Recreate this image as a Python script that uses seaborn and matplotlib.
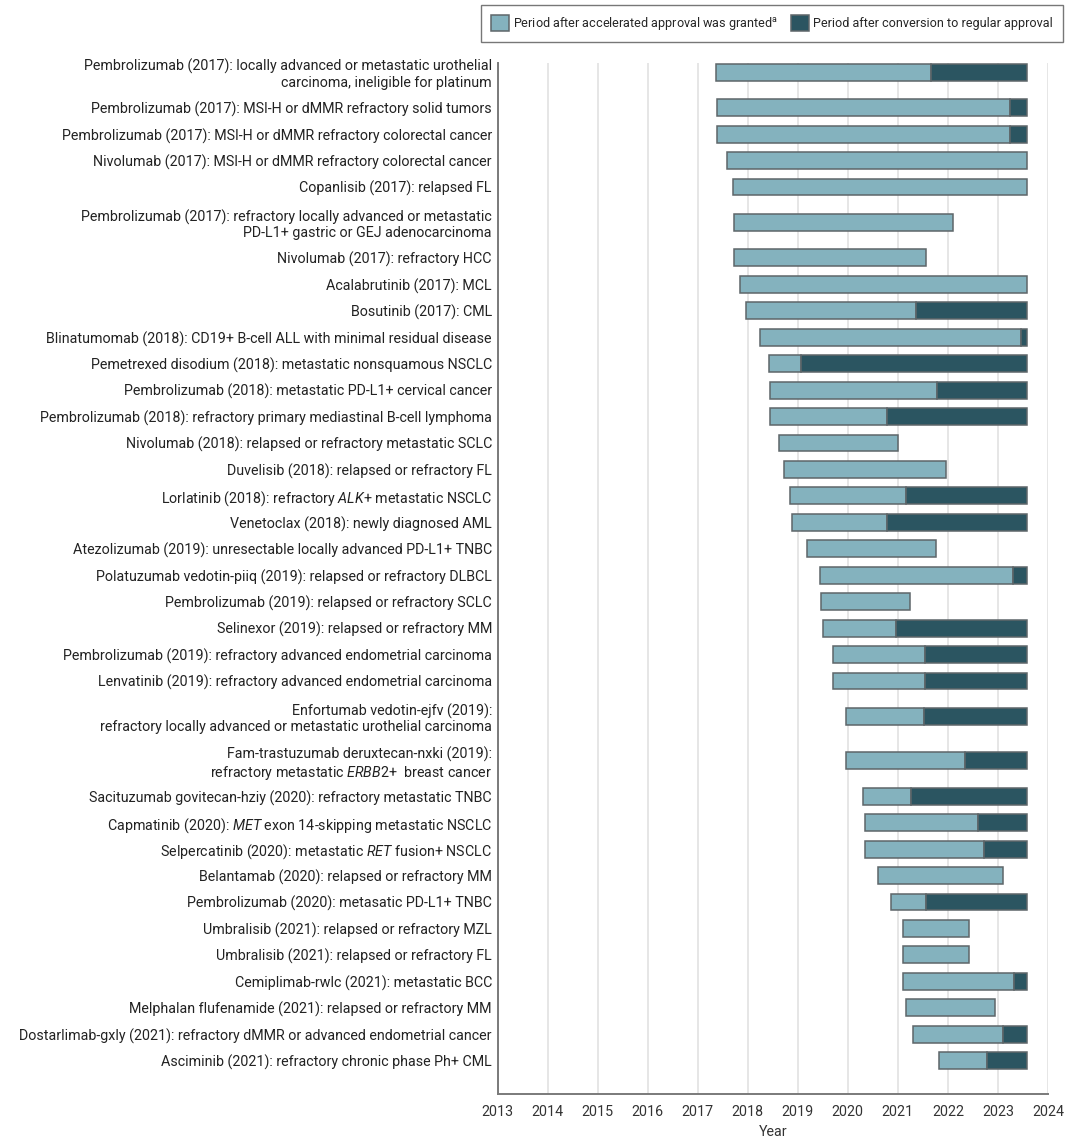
import numpy as np
import matplotlib
matplotlib.use("Agg")
import matplotlib.pyplot as plt
import matplotlib.font_manager as fm
from matplotlib.patches import Patch
import seaborn as sns

labels = [
    "Pembrolizumab (2017): locally advanced or metastatic urothelial\ncarcinoma, ineligible for platinum",
    "Pembrolizumab (2017): MSI-H or dMMR refractory solid tumors",
    "Pembrolizumab (2017): MSI-H or dMMR refractory colorectal cancer",
    "Nivolumab (2017): MSI-H or dMMR refractory colorectal cancer",
    "Copanlisib (2017): relapsed FL",
    "Pembrolizumab (2017): refractory locally advanced or metastatic\nPD-L1+ gastric or GEJ adenocarcinoma",
    "Nivolumab (2017): refractory HCC",
    "Acalabrutinib (2017): MCL",
    "Bosutinib (2017): CML",
    "Blinatumomab (2018): CD19+ B-cell ALL with minimal residual disease",
    "Pemetrexed disodium (2018): metastatic nonsquamous NSCLC",
    "Pembrolizumab (2018): metastatic PD-L1+ cervical cancer",
    "Pembrolizumab (2018): refractory primary mediastinal B-cell lymphoma",
    "Nivolumab (2018): relapsed or refractory metastatic SCLC",
    "Duvelisib (2018): relapsed or refractory FL",
    "Lorlatinib (2018): refractory $\\mathit{ALK}$+ metastatic NSCLC",
    "Venetoclax (2018): newly diagnosed AML",
    "Atezolizumab (2019): unresectable locally advanced PD-L1+ TNBC",
    "Polatuzumab vedotin-piiq (2019): relapsed or refractory DLBCL",
    "Pembrolizumab (2019): relapsed or refractory SCLC",
    "Selinexor (2019): relapsed or refractory MM",
    "Pembrolizumab (2019): refractory advanced endometrial carcinoma",
    "Lenvatinib (2019): refractory advanced endometrial carcinoma",
    "Enfortumab vedotin-ejfv (2019):\nrefractory locally advanced or metastatic urothelial carcinoma",
    "Fam-trastuzumab deruxtecan-nxki (2019):\nrefractory metastatic $\\mathit{ERBB2}$+  breast cancer",
    "Sacituzumab govitecan-hziy (2020): refractory metastatic TNBC",
    "Capmatinib (2020): $\\mathit{MET}$ exon 14-skipping metastatic NSCLC",
    "Selpercatinib (2020): metastatic $\\mathit{RET}$ fusion+ NSCLC",
    "Belantamab (2020): relapsed or refractory MM",
    "Pembrolizumab (2020): metasatic PD-L1+ TNBC",
    "Umbralisib (2021): relapsed or refractory MZL",
    "Umbralisib (2021): relapsed or refractory FL",
    "Cemiplimab-rwlc (2021): metastatic BCC",
    "Melphalan flufenamide (2021): relapsed or refractory MM",
    "Dostarlimab-gxly (2021): refractory dMMR or advanced endometrial cancer",
    "Asciminib (2021): refractory chronic phase Ph+ CML",
]

accel_start = [2017.37, 2017.39, 2017.39, 2017.58, 2017.70, 2017.72, 2017.72, 2017.84, 2017.97,
               2018.24, 2018.42, 2018.44, 2018.44, 2018.62, 2018.73, 2018.84, 2018.89, 2019.18,
               2019.44, 2019.46, 2019.50, 2019.71, 2019.71, 2019.96, 2019.96, 2020.30, 2020.35,
               2020.35, 2020.60, 2020.87, 2021.10, 2021.10, 2021.11, 2021.16, 2021.31, 2021.83]
nan = float("nan")
conversion = [2021.66, 2023.24, 2023.24, nan, nan, nan, nan, nan, 2021.37,
              2023.46, 2019.07, 2021.78, 2020.79, nan, nan, 2021.17, 2020.79, nan,
              2023.30, nan, 2020.96, 2021.55, 2021.55, 2021.52, 2022.34, 2021.26, 2022.60,
              2022.72, nan, 2021.57, nan, nan, 2023.32, nan, 2023.11, 2022.78]
period_end = [2023.59, 2023.59, 2023.59, 2023.59, 2023.59, 2022.10, 2021.56, 2023.59, 2023.59,
              2023.59, 2023.59, 2023.59, 2023.59, 2021.00, 2021.96, 2023.59, 2023.59, 2021.77,
              2023.59, 2021.25, 2023.59, 2023.59, 2023.59, 2023.59, 2023.59, 2023.59, 2023.59,
              2023.59, 2023.10, 2023.59, 2022.42, 2022.42, 2023.59, 2022.94, 2023.59, 2023.59]
year_ticks = list(range(2013, 2025))
legend_labels = ["Period after accelerated approval was granted$^{\\mathrm{a}}$",
                 "Period after conversion to regular approval"]

LIGHT = "#84b2be"
DARK = "#2b5561"
EDGE = "#5e6669"

sns.set_theme(style="white")
names = {f.name for f in fm.fontManager.ttflist}
font = "DejaVu Sans"
for cand in ["Roboto", "Liberation Sans", "Open Sans"]:
    if cand in names:
        font = cand
        break
plt.rcParams["font.family"] = [font, "DejaVu Sans"]
plt.rcParams["mathtext.fontset"] = "custom"
plt.rcParams["mathtext.rm"] = font
plt.rcParams["mathtext.it"] = font + ":italic"

FS = 10.3

fig = plt.figure(figsize=(10.8, 11.43), dpi=100)
ax = fig.add_axes([497.5 / 1080, 1 - 1094 / 1143, (1048 - 497.5) / 1080, (1094 - 63) / 1143])

# vertical positions: two-line labels get extra room
E = 0.34
double = ["\n" in l for l in labels]
pos = [0.0]
for i in range(1, len(labels)):
    pos.append(pos[-1] + 1 + E * (double[i - 1] + double[i]))
pos = np.array(pos)

start = np.array(accel_start)
conv = np.array(conversion)
end = np.array(period_end)
light_end = np.where(np.isnan(conv), end, conv)

for yr in year_ticks:
    ax.axvline(yr, color="#e4e4e4", lw=1.3, zorder=0)

H = 0.64
ax.barh(pos, light_end - start, left=start, height=H, color=LIGHT, edgecolor=EDGE,
        linewidth=1.1, zorder=2)
has = ~np.isnan(conv)
ax.barh(pos[has], end[has] - conv[has], left=conv[has], height=H, color=DARK,
        edgecolor=EDGE, linewidth=1.1, zorder=2)

ax.set_xlim(2013, 2024)
ax.set_ylim(pos[-1] + 1.26, -0.35)
ax.set_xticks(year_ticks)
ax.set_xticklabels([str(y) for y in year_ticks], fontsize=FS, color="#333333")
ax.set_yticks(pos)
ax.set_yticklabels(labels, fontsize=FS, color="#222222", linespacing=1.12)
ax.tick_params(axis="y", length=0, pad=4)
ax.tick_params(axis="x", length=5, width=1.2, color="#7a7a7a", direction="out", pad=3)
ax.set_xlabel("Year", fontsize=FS, color="#333333", labelpad=4)
sns.despine(ax=ax, top=True, right=True)
for s in ["left", "bottom"]:
    ax.spines[s].set_color("#7a7a7a")
    ax.spines[s].set_linewidth(1.4)
ax.set_facecolor("white")

handles = [Patch(facecolor=LIGHT, edgecolor=EDGE, linewidth=1.1),
           Patch(facecolor=DARK, edgecolor=EDGE, linewidth=1.1)]
leg = fig.legend(handles, legend_labels, loc="upper right",
                 bbox_to_anchor=(1063 / 1080, 1 - 5 / 1143), ncol=2, fontsize=9.1,
                 frameon=True, fancybox=False, handlelength=1.4, handleheight=1.6,
                 handletextpad=0.35, columnspacing=1.0, borderpad=0.8, borderaxespad=0)
leg.get_frame().set_edgecolor("#555555")
leg.get_frame().set_linewidth(1.0)

fig.savefig("out.png", dpi=100, facecolor="white")
